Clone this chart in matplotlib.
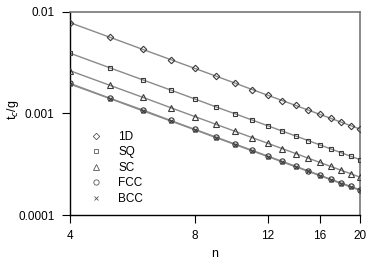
import matplotlib
matplotlib.use("Agg")
import matplotlib.pyplot as plt
from matplotlib.lines import Line2D
from matplotlib.ticker import FixedLocator, FixedFormatter, NullLocator

plt.rcParams['font.family'] = ['Liberation Sans', 'DejaVu Sans']

n = [4, 5, 6, 7, 8, 9, 10, 11, 12, 13, 14, 15, 16, 17, 18, 19, 20]
t_1D = [0.00785, 0.00562, 0.00427, 0.00339, 0.00278, 0.00233, 0.00199, 0.00172, 0.00151,
        0.00134, 0.00120, 0.00108, 0.000981, 0.000896, 0.000822, 0.000758, 0.000702]
t_SQ = [0.00393, 0.00281, 0.00214, 0.00170, 0.00139, 0.00116, 0.000993, 0.000861, 0.000756,
        0.000670, 0.000600, 0.000541, 0.000491, 0.000448, 0.000411, 0.000379, 0.000351]
t_SC = [0.00264, 0.00189, 0.00144, 0.00114, 0.000932, 0.000782, 0.000667, 0.000578, 0.000508,
        0.000450, 0.000403, 0.000363, 0.000330, 0.000301, 0.000276, 0.000255, 0.000236]
t_FCC = [0.00198, 0.00141, 0.00108, 0.000853, 0.000698, 0.000585, 0.000500, 0.000433, 0.000380,
         0.000337, 0.000302, 0.000272, 0.000247, 0.000225, 0.000207, 0.000191, 0.000177]
t_BCC = [0.00195, 0.00140, 0.00106, 0.000843, 0.000690, 0.000578, 0.000494, 0.000428, 0.000376,
         0.000333, 0.000298, 0.000269, 0.000244, 0.000223, 0.000204, 0.000189, 0.000175]

series = [("1D", t_1D, "D", 3.3), ("SQ", t_SQ, "s", 3.4), ("SC", t_SC, "^", 3.8),
          ("FCC", t_FCC, "o", 3.8), ("BCC", t_BCC, "x", 3.0)]

xticks = [4, 8, 12, 16, 20]
yticks = [0.0001, 0.001, 0.01]
yticklabels = ["0.0001", "0.001", "0.01"]

fig = plt.figure(figsize=(3.74, 2.63), dpi=100)
ax = fig.add_axes([0.187, 0.1825, 0.7756, 0.772])

line_c = "#8a8a8a"
mk_c = "#3a3a3a"
for name, vals, m, ms in series:
    ax.plot(n, vals, color=line_c, lw=1.0, zorder=2)
    ax.plot(n, vals, linestyle="none", marker=m, ms=ms, mfc="none", mec=mk_c, mew=0.8, zorder=3)

ax.set_xscale("log")
ax.set_yscale("log")
ax.set_xlim(4, 20)
ax.set_ylim(0.0001, 0.01)
ax.xaxis.set_major_locator(FixedLocator(xticks))
ax.xaxis.set_major_formatter(FixedFormatter([str(v) for v in xticks]))
ax.xaxis.set_minor_locator(NullLocator())
ax.yaxis.set_major_locator(FixedLocator(yticks))
ax.yaxis.set_major_formatter(FixedFormatter(yticklabels))
ax.yaxis.set_minor_locator(NullLocator())

ax.tick_params(axis="both", direction="out", length=6, width=0.8, labelsize=8.5, pad=5, colors="black")
for s in ["left", "bottom"]:
    ax.spines[s].set_color("black")
    ax.spines[s].set_linewidth(1.0)
for s in ["top", "right"]:
    ax.spines[s].set_color("#777777")
    ax.spines[s].set_linewidth(1.2)

ax.set_xlabel("n", fontsize=9, labelpad=4)
ax.set_ylabel("t$_c$/g", fontsize=9)
ax.yaxis.set_label_coords(-0.17, 0.52)

handles = [Line2D([], [], linestyle="none", marker=m, ms=ms, mfc="none", mec="#555555", mew=0.6)
           for name, vals, m, ms in series]
ax.legend(handles, [s[0] for s in series], loc="lower left", bbox_to_anchor=(0.04, 0.015),
          frameon=False, fontsize=8.5, handlelength=1.2, handletextpad=1.3, labelspacing=0.3,
          borderaxespad=0.2)

fig.savefig("out.png", dpi=100)
